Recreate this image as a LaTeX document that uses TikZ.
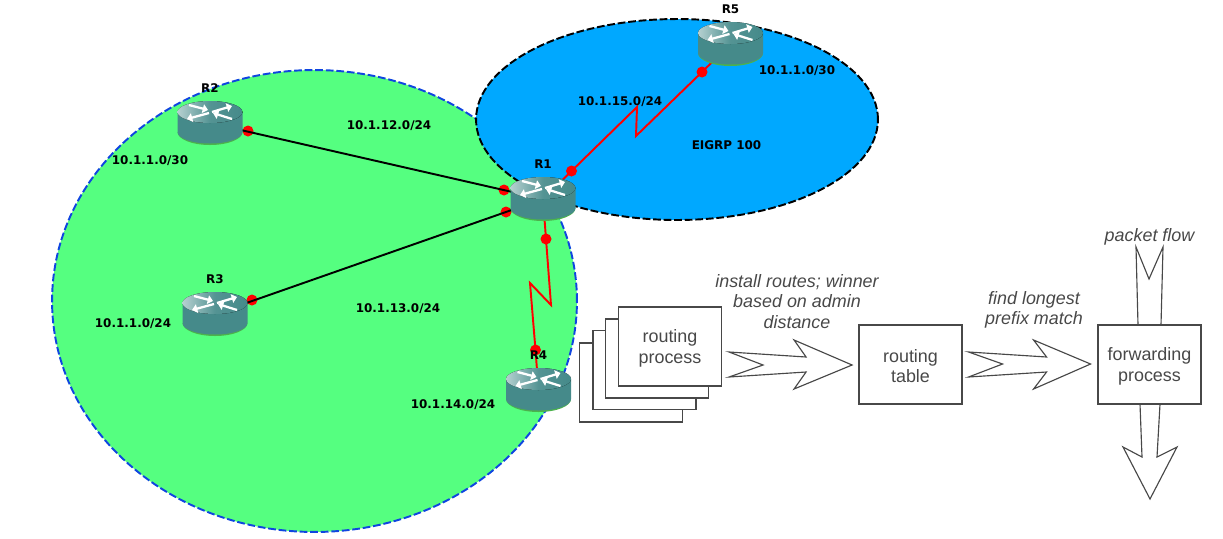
\documentclass[tikz,border=0pt]{standalone}
\usepackage{fontspec}
\setmainfont{Liberation Sans}
\newfontfamily\netfont{DejaVu Sans}
\usetikzlibrary{shapes.geometric, arrows.meta}
\definecolor{areagreen}{HTML}{55FF80}
\definecolor{areablue}{HTML}{00A8FF}
\definecolor{dashblue}{HTML}{0F45E0}
\definecolor{routerbody}{HTML}{458A8A}
\definecolor{routertop}{HTML}{B5D0D0}
\definecolor{flowline}{HTML}{484848}
\newcommand{\boxlines}[2]{\rule{0pt}{9.4pt}#1\\#2}
\tikzset{
  area/.style={ellipse, draw, dashed, line width=1.1pt, inner sep=0pt, dash pattern=on 4.4pt off 1.6pt},
  router/.style={minimum width=1.32cm, minimum height=0.88cm, inner sep=0pt, path picture={
    \begin{scope}[shift={(path picture bounding box.center)}]
      \fill[gray!60!green] (-32.5,9) arc[start angle=180, end angle=0, x radius=32.5, y radius=13] -- cycle;
      \fill[routerbody] (-32.5,-11) -- (-32.5,9) arc[start angle=180, end angle=0, x radius=32.5, y radius=11.5] -- (32.5,-11) -- cycle;
      \fill[left color=routertop, right color=routerbody, middle color=routerbody!92!white] (0,-11) ellipse[x radius=32.5, y radius=11];
      \draw[routerarrow] (-21,-18) -- (-2,-13);
      \draw[routerarrow] (2,-11) -- (22,-17);
      \draw[routerarrow] (-1,-10) -- (-23,-4);
      \draw[routerarrow] (22,-4) -- (3,-10);
    \end{scope}}},
  routerarrow/.style={white, line width=1.3pt, -{Triangle[length=3pt, width=5pt]}},
  rname/.style={font=\netfont\bfseries\fontsize{6.8}{8}\selectfont, inner sep=0pt, label distance=4.4pt},
  netlabel/.style={font=\netfont\bfseries\fontsize{6.8}{8}\selectfont, inner sep=0pt},
  dot/.style={circle, fill=red, inner sep=0pt, minimum size=0.22cm},
  wire/.style={black, line width=1.1pt},
  serial/.style={red, line width=1.1pt},
  box/.style={draw=flowline, fill=white, line width=0.65pt, minimum width=2.06cm, minimum height=1.58cm, inner sep=0pt, align=center, text=flowline, font=\fontsize{10.2}{11.7}\selectfont},
  flow/.style={draw=flowline, fill=white, line width=0.65pt, line join=miter},
  flowtext/.style={align=center, inner sep=0pt, text=flowline, font=\itshape\fontsize{10.2}{11.7}\selectfont},
}
\begin{document}
\begin{tikzpicture}[x=0.02cm, y=-0.02cm]
  \useasboundingbox (0,0) rectangle (1223,538);

  \draw (314.5,301) node[area, draw=dashblue, fill=areagreen, minimum width=10.5cm, minimum height=9.24cm](igp) {};
  \draw (677,119.5) node[area, draw=black, fill=areablue, minimum width=8.04cm, minimum height=4.02cm](eigrp) {};

  \coordinate (rone) at (543,199);
  \coordinate (zone) at (551,305);
  \coordinate (ztwo) at (530,283);
  \coordinate (zthree) at (637,107);
  \coordinate (zfour) at (636,136);

  \draw (571.5,171) node[dot](dfive) {};
  \draw (702,72) node[dot](dsix) {};
  \draw (504,190) node[dot](dtwo) {};
  \draw (248,131) node[dot](dthree) {};
  \draw (506,212) node[dot](dfour) {};
  \draw (252,300) node[dot](dseven) {};
  \draw (546,239) node[dot](deight) {};
  \draw (535.5,350) node[dot](dnine) {};

  \draw (210,123) node[coordinate](rtwoc) {};
  \draw (215,314) node[coordinate](rthreec) {};
  \draw (538.5,390) node[coordinate](rfourc) {};
  \draw (730.5,44) node[coordinate](rfivec) {};

  \draw[wire] (rtwoc) -- (rone);
  \draw[wire] (rthreec) -- (rone);
  \draw[serial] (rone) -- (deight.center) -- (zone) -- (ztwo) -- (dnine.center) -- (rfourc);
  \draw[serial] (rone) -- (dfive.center) -- (zthree) -- (zfour) -- (dsix.center) -- (rfivec);

  \draw (rone) node[router, label={[rname]above:R1}](routerone) {};
  \draw (rtwoc) node[router, label={[rname]above:R2}](routertwo) {};
  \draw (rthreec) node[router, label={[rname]above:R3}](routerthree) {};
  \draw (rfourc) node[router, label={[rname]above:R4}](routerfour) {};
  \draw (rfivec) node[router, label={[rname]above:R5}](routerfive) {};

  \node[netlabel] (ltwelve) at (389,126) {10.1.12.0/24};
  \node[netlabel] (lfifteen) at (620,102) {10.1.15.0/24};
  \node[netlabel] (lfive) at (797,71) {10.1.1.0/30};
  \node[netlabel] (las) at (726.5,145) {EIGRP 100};
  \node[netlabel] (ltwo) at (150,161) {10.1.1.0/30};
  \node[netlabel] (lthree) at (133,323.5) {10.1.1.0/24};
  \node[netlabel] (lthirteen) at (398,309) {10.1.13.0/24};
  \node[netlabel] (lfourteen) at (453,405) {10.1.14.0/24};

  \draw (631,382.5) node[box](pfour) {};
  \draw (644.5,370) node[box](pthree) {};
  \draw (657,358.5) node[box](ptwo) {};
  \draw (670,346.5) node[box](pone) {\boxlines{routing}{process}};
  \draw (910.5,364.5) node[box](rtable) {\boxlines{routing}{table}};

  \draw[flow] (pone.east) ++(7,5.5) -- ++(77,5) -- ++(-12,-17) -- ++(58,25) -- ++(-58,24) -- ++(12,-17) -- ++(-77,5) -- ++(34,-12) -- cycle;
  \draw[flow] (rtable.east) ++(6,-12.5) -- ++(78,5) -- ++(-13,-17) -- ++(57,24) -- ++(-57,25) -- ++(13,-17) -- ++(-78,5) -- ++(34,-13) -- cycle;

  \draw[flow] (1149.5,325) ++(-11.5,0) -- ++(-2,-78) -- ++(13,32) -- ++(14,-32) -- ++(-2,78);
  \draw[flow] (1149.5,404) ++(-9.5,0) -- ++(2,53) -- ++(-19,-10) -- ++(27,52) -- ++(27,-52) -- ++(-20,10) -- ++(3,-53);

  \draw (1149.5,364.5) node[box](fwd) {\boxlines{forwarding}{process}};

  \node[flowtext] (tinstall) at (797,301.5) {install routes; winner\\based on admin\\distance};
  \node[flowtext] (tprefix) at (1034,310) {find longest\\prefix match};
  \node[flowtext] (tpacket) at (1149.5,237) {packet flow};
\end{tikzpicture}
\end{document}
